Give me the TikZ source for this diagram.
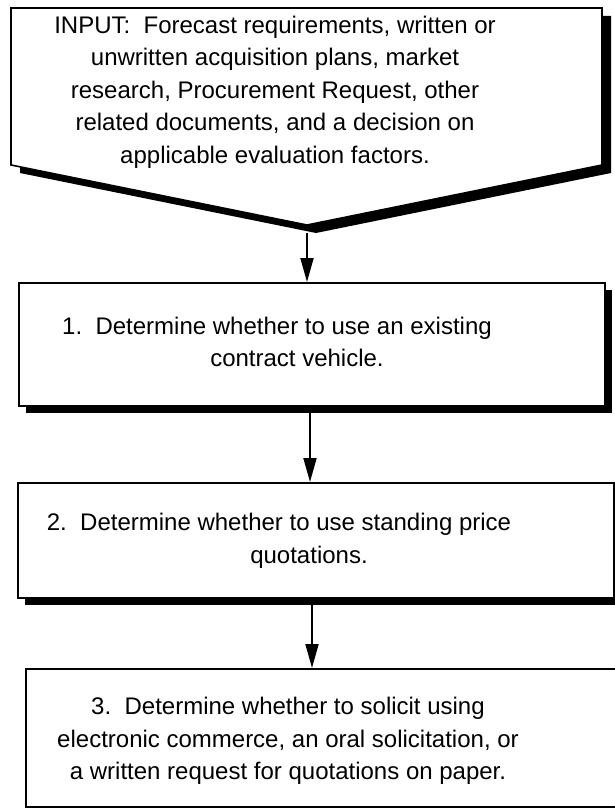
\documentclass[tikz,border=0pt]{standalone}
\usepackage{fontspec}
\setmainfont{Liberation Sans}
\usetikzlibrary{arrows.meta}
\tikzset{
  boxline/.style={draw=black, line width=1.6pt, fill=white, line join=miter},
  shadowfill/.style={fill=black},
  flowarrow/.style={line width=1.8pt, -{Triangle[length=24pt,width=13pt]}},
  boxtext/.style={align=center, font=\fontsize{24}{32.5}\selectfont, inner sep=0pt}
}
\begin{document}
\begin{tikzpicture}[x=1pt,y=-1pt]
\useasboundingbox (0,0) rectangle (615,808);
% input pentagon
\fill[shadowfill] (20,16) -- (611,16) -- (611,173) -- (316,233) -- (20,173) -- cycle;
\draw[boxline] (11,8) -- (602,8) -- (602,165) -- (307,225) -- (11,165) -- cycle;
\coordinate (inapex) at (307,233);
\node[boxtext] (intext) at (275,92) {INPUT:\ \ Forecast requirements, written or\\unwritten acquisition plans, market\\research, Procurement Request, other\\related documents, and a decision on\\applicable evaluation factors.};
% box 1
\fill[shadowfill] (26,290) rectangle (612,413);
\node[boxline, minimum width=586pt, minimum height=123pt, anchor=north west, inner sep=0pt] (b1) at (18,282) {};
\node[boxtext] (t1) at (277,342) {1.\ \ Determine whether to use an existing\\\hspace*{40pt}contract vehicle.};
% box 2
\fill[shadowfill] (25,490) rectangle (621,605);
\node[boxline, minimum width=596pt, minimum height=115pt, anchor=north west, inner sep=0pt] (b2) at (17,482) {};
\node[boxtext] (t2) at (279,541) {2.\ \ Determine whether to use standing price\\\hspace*{60pt}quotations.};
% box 3
\fill[shadowfill] (33,676) rectangle (633,814);
\node[boxline, minimum width=600pt, minimum height=138pt, anchor=north west, inner sep=0pt] (b3) at (25,668) {};
\node[boxtext] (t3) at (288,741) {3.\ \ Determine whether to solicit using\\electronic commerce, an oral solicitation, or\\a written request for quotations on paper.};
% arrows
\draw[flowarrow] (inapex) -- (b1.north -| inapex);
\coordinate (a1s) at (310,413);
\draw[flowarrow] (a1s) -- (b2.north -| a1s);
\coordinate (a2s) at (312,605);
\draw[flowarrow] (a2s) -- (b3.north -| a2s);
\end{tikzpicture}
\end{document}
